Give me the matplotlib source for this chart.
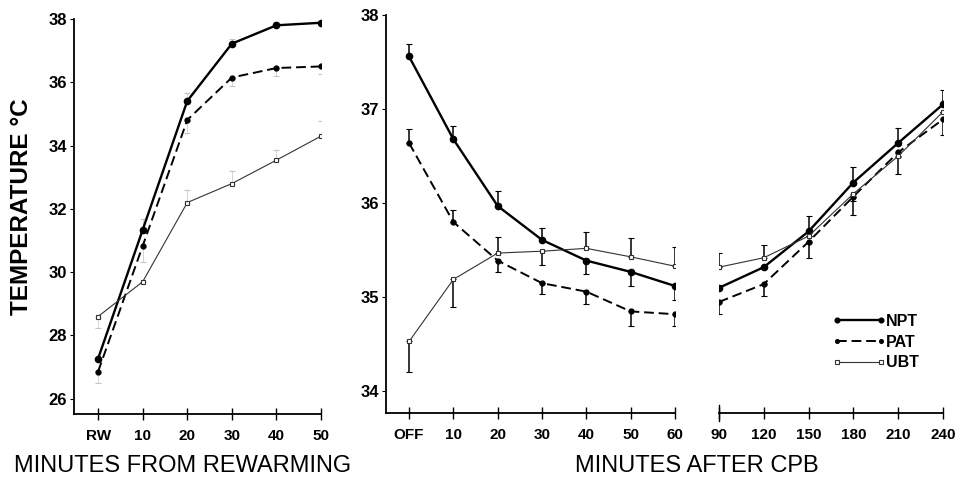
import numpy as np
import matplotlib
matplotlib.use("Agg")
import matplotlib.pyplot as plt

plt.rcParams['font.family'] = ['Liberation Sans', 'DejaVu Sans']

# left panel: minutes from rewarming
rw_labels = ['RW', '10', '20', '30', '40', '50']
rw_npt = [27.27, 31.34, 35.41, 37.22, 37.80, 37.88]
rw_pat = [26.86, 30.83, 34.81, 36.15, 36.45, 36.50]
rw_ubt = [28.60, 29.70, 32.20, 32.80, 33.54, 34.30]
# signed error: + drawn upward, - drawn downward
rw_npt_err = [0.0, 0.35, 0.25, 0.15, 0.10, 0.0]
rw_pat_err = [-0.35, -0.50, -0.40, -0.27, -0.25, -0.25]
rw_ubt_err = [-0.35, 0.0, 0.40, 0.40, 0.32, 0.48]

# right panel: minutes after CPB, first block
cpb1_labels = ['OFF', '10', '20', '30', '40', '50', '60']
cpb1_npt = [37.56, 36.68, 35.97, 35.61, 35.39, 35.27, 35.12]
cpb1_pat = [36.64, 35.80, 35.39, 35.15, 35.06, 34.85, 34.82]
cpb1_ubt = [34.53, 35.19, 35.47, 35.49, 35.52, 35.43, 35.33]
cpb1_npt_err = [0.13, 0.14, 0.16, 0.13, -0.14, -0.15, -0.15]
cpb1_pat_err = [0.15, 0.13, -0.12, -0.12, -0.13, -0.16, -0.13]
cpb1_ubt_err = [-0.32, -0.29, 0.17, -0.15, 0.17, 0.20, 0.20]

# second block
cpb2_labels = ['90', '120', '150', '180', '210', '240']
cpb2_npt = [35.10, 35.32, 35.70, 36.22, 36.64, 37.05]
cpb2_pat = [34.95, 35.14, 35.59, 36.07, 36.54, 36.89]
cpb2_ubt = [35.32, 35.42, 35.65, 36.10, 36.50, 36.97]
cpb2_npt_err = [0.0, 0.0, 0.16, 0.16, 0.16, 0.15]
cpb2_pat_err = [-0.13, -0.13, -0.17, -0.05, -0.05, -0.17]
cpb2_ubt_err = [0.15, 0.14, 0.0, -0.22, -0.19, 0.0]


def yerr(e):
    e = np.asarray(e)
    return [np.clip(-e, 0, None), np.clip(e, 0, None)]


styles = {
    'NPT': dict(color='black', lw=1.7, ls='-', marker='o', ms=4.5, mfc='black', mec='black'),
    'PAT': dict(color='black', lw=1.4, ls=(0, (5, 2.5)), marker='o', ms=3.5, mfc='black', mec='black'),
    'UBT': dict(color='#333333', lw=0.8, ls='-', marker='s', ms=3.5, mfc='white', mec='#333333', mew=0.8),
}


def draw(ax, labels, series, errs, faint=False):
    x = np.arange(len(labels))
    lines = []
    for name, y in series.items():
        st = styles[name]
        ec = '#c4c4c4' if faint else 'black'
        ax.errorbar(x, y, yerr=yerr(errs[name]), fmt='none', ecolor=ec,
                    elinewidth=0.5 if faint else 1.1, capsize=2, capthick=0.8, zorder=2)
        ln, = ax.plot(x, y, zorder=3, **st)
        lines.append(ln)
    ax.set_xticks(x)
    ax.set_xticklabels(labels)
    return lines


fig = plt.figure(figsize=(9.65, 4.8), dpi=100)
ax1 = fig.add_axes([0.0767, 0.1375, 0.256, 0.823])
ax2 = fig.add_axes([0.400, 0.1396, 0.2995, 0.829])
ax3 = fig.add_axes([0.745, 0.1396, 0.2321, 0.829])

draw(ax1, rw_labels, {'NPT': rw_npt, 'PAT': rw_pat, 'UBT': rw_ubt},
     {'NPT': rw_npt_err, 'PAT': rw_pat_err, 'UBT': rw_ubt_err}, faint=True)
draw(ax2, cpb1_labels, {'NPT': cpb1_npt, 'PAT': cpb1_pat, 'UBT': cpb1_ubt},
     {'NPT': cpb1_npt_err, 'PAT': cpb1_pat_err, 'UBT': cpb1_ubt_err})
lines = draw(ax3, cpb2_labels, {'NPT': cpb2_npt, 'PAT': cpb2_pat, 'UBT': cpb2_ubt},
             {'NPT': cpb2_npt_err, 'PAT': cpb2_pat_err, 'UBT': cpb2_ubt_err})

ax1.set_xlim(-0.54, 5)
ax1.set_ylim(25.52, 38)
ax1.set_yticks([26, 28, 30, 32, 34, 36, 38])
ax2.set_xlim(-0.52, 6)
ax2.set_ylim(33.77, 38)
ax2.set_yticks([34, 35, 36, 37, 38])
ax3.set_xlim(0, 5)
ax3.set_ylim(33.77, 38)

for ax in (ax1, ax2, ax3):
    for s in ('top', 'right'):
        ax.spines[s].set_visible(False)
    ax.spines['bottom'].set_linewidth(1.3)
    ax.spines['left'].set_linewidth(1.3)
    ax.tick_params(axis='x', direction='inout', length=9, width=1.0, pad=6,
                   labelsize=11)
    ax.tick_params(axis='y', direction='out', length=3, width=0.8, pad=2,
                   labelsize=12)
    for lbl in ax.get_xticklabels() + ax.get_yticklabels():
        lbl.set_fontweight('bold')
ax3.spines['left'].set_visible(False)
ax3.tick_params(axis='y', left=False, labelleft=False)
ax3.axvline(0, ymin=-0.02, ymax=0.02, color='black', lw=1.0, clip_on=False)

fig.text(0.022, 0.57, 'TEMPERATURE °C', rotation=90, ha='center', va='center',
         fontsize=17.5, fontweight='bold')
fig.text(0.189, 0.03, 'MINUTES FROM REWARMING', ha='center', va='center', fontsize=17)
fig.text(0.722, 0.03, 'MINUTES AFTER CPB', ha='center', va='center', fontsize=17)

leg = ax3.legend(lines, ['NPT', 'PAT', 'UBT'], loc='upper left',
                 bbox_to_anchor=(0.44, 0.285), frameon=False, numpoints=2,
                 handlelength=3.4, handletextpad=0.0, labelspacing=0.35,
                 markerscale=0.75, prop={'size': 11.5, 'weight': 'bold'})

fig.savefig('out.png', dpi=100)
